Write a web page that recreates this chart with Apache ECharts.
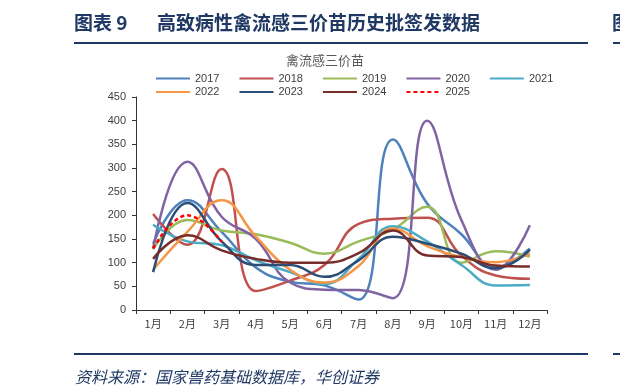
<!DOCTYPE html>
<html><head><meta charset="utf-8">
<script src="https://cdn.jsdelivr.net/npm/echarts@6/dist/echarts.min.js"></script>
<style>html,body{margin:0;padding:0;background:#fff}#c{width:620px;height:392px}</style>
</head><body><div id="c"></div>
<script>
const months = ['1月','2月','3月','4月','5月','6月','7月','8月','9月','10月','11月','12月'];
const yTicks = [0,50,100,150,200,250,300,350,400,450];
const d2017 = [140, 232, 165, 90, 60, 52, 22, 360, 225, 160, 90, 130];
const d2018 = [203, 138, 298, 40, 62, 95, 182, 193, 195, 115, 73, 66];
const d2019 = [128, 190, 168, 160, 142, 119, 145, 170, 218, 100, 124, 113];
const d2020 = [130, 313, 197, 150, 58, 43, 42, 25, 400, 190, 85, 179];
const d2021 = [180, 145, 137, 105, 80, 55, 108, 177, 145, 95, 52, 53];
const d2022 = [85, 165, 232, 155, 85, 58, 93, 172, 135, 112, 101, 119];
const d2023 = [80, 226, 145, 95, 95, 70, 105, 155, 140, 119, 88, 127];
const d2024 = [108, 158, 126, 108, 100, 100, 120, 168, 115, 112, 94, 92];
const d2025 = [130, 200, 144];

const names = ['2017','2018','2019','2020','2021','2022','2023','2024','2025'];
const datas = [d2017,d2018,d2019,d2020,d2021,d2022,d2023,d2024,d2025];
const colors = ['#4F81BD','#C0504D','#9BBB59','#8064A2','#4BACC6','#F79646','#2C4D75','#772C2A','#FF0000'];

const navy = '#1F3864';
const font = '"Liberation Sans", Arial, sans-serif';
const cjk = '"Noto Sans CJK SC", sans-serif';

const series = names.map((n, i) => ({
  name: n, type: 'line', data: datas[i], smooth: 0.45, symbol: 'none', showSymbol: false,
  lineStyle: { width: 2.5, color: colors[i], type: n === '2025' ? [4, 3] : 'solid' },
  itemStyle: { color: colors[i] }, z: n === '2025' ? 5 : 2
}));

const legendCommon = {
  itemWidth: 34, itemHeight: 10, itemGap: 19, padding: 0,
  itemStyle: { opacity: 0, borderWidth: 0 },
  textStyle: { fontSize: 11, color: '#404040', fontFamily: font }
};

const chart = echarts.init(document.getElementById('c'), null, { renderer: 'canvas' });
chart.setOption({
  animation: false,
  backgroundColor: '#fff',
  legend: [
    Object.assign({ left: 155, top: 73, data: names.slice(0, 5) }, legendCommon),
    Object.assign({ left: 155, top: 86.5, data: names.slice(5) }, legendCommon)
  ],
  grid: { left: 136, right: 73, top: 97, bottom: 82, containLabel: false },
  xAxis: {
    type: 'category', data: months, boundaryGap: true,
    axisLine: { lineStyle: { color: '#333', width: 1 } },
    axisTick: { show: true, length: 4, inside: false, lineStyle: { color: '#333' } },
    axisLabel: { fontSize: 11, color: '#404040', fontFamily: cjk, margin: 8, interval: 0 }
  },
  yAxis: {
    type: 'value', min: yTicks[0], max: yTicks[yTicks.length - 1], interval: 50,
    splitLine: { show: false },
    axisLine: { show: true, lineStyle: { color: '#333', width: 1 } },
    axisTick: { show: true, length: 4, lineStyle: { color: '#333' } },
    axisLabel: { fontSize: 11, color: '#404040', fontFamily: font, margin: 10 }
  },
  series: series,
  graphic: [
    { type: 'text', left: 74, top: 13, style: { text: '图表 9', font: 'bold 19px ' + cjk, fill: navy } },
    { type: 'text', left: 157, top: 13, style: { text: '高致病性禽流感三价苗历史批签发数据', font: 'bold 19px ' + cjk, fill: navy } },
    { type: 'rect', shape: { x: 74, y: 42, width: 514, height: 2 }, style: { fill: navy } },
    { type: 'text', left: 612, top: 13, style: { text: '图', font: 'bold 19px ' + cjk, fill: navy } },
    { type: 'rect', shape: { x: 613, y: 42, width: 7, height: 2 }, style: { fill: navy } },
    { type: 'text', x: 325, y: 60, style: { text: '禽流感三价苗', font: '13px ' + cjk, fill: '#595959', align: 'center', verticalAlign: 'middle' } },
    { type: 'rect', shape: { x: 74, y: 353, width: 514, height: 2 }, style: { fill: navy } },
    { type: 'rect', shape: { x: 613, y: 353, width: 7, height: 2 }, style: { fill: navy } },
    { type: 'text', x: 75, y: 377, style: { text: '资料来源：国家兽药基础数据库，华创证券', font: 'italic 16px ' + cjk, fill: navy, verticalAlign: 'middle' } }
  ]
});
</script>
</body></html>
